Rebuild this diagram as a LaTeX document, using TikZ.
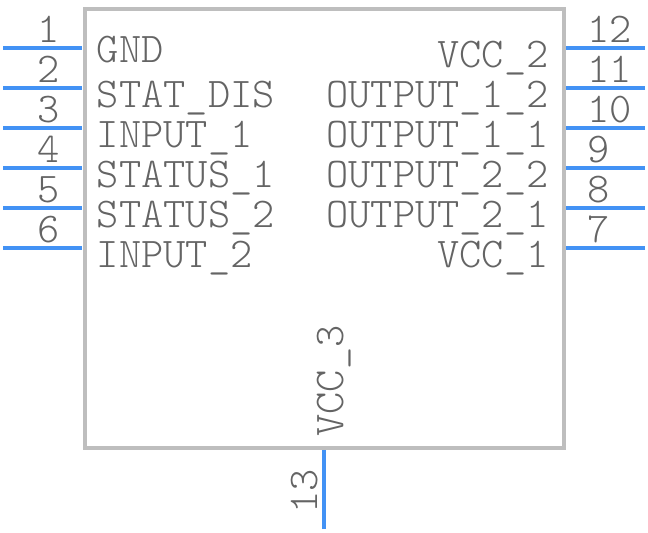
\documentclass[tikz,border=0pt]{standalone}
\usepackage{fontspec}
\setmonofont{Latin Modern Mono Light}
\definecolor{pincol}{RGB}{66,146,245}
\definecolor{boxcol}{RGB}{190,190,190}
\definecolor{txtcol}{RGB}{100,100,100}
\newcommand{\wpx}{648}
\newcommand{\hpx}{532}
\tikzset{
    px/.style={x=0.02cm,y=-0.02cm},
    pinline/.style={draw=pincol,line width=0.08cm},
    lab/.style={text=txtcol,font=\ttfamily\fontsize{24.1}{24.1}\selectfont,inner sep=0pt},
    num/.style={text=txtcol,font=\ttfamily\fontsize{24.1}{24.1}\selectfont,inner sep=0pt}
}
\begin{document}
\begin{tikzpicture}[px]
    \useasboundingbox (0,0) rectangle (\wpx,\hpx);
    \node[draw=boxcol,line width=0.08cm,minimum width=9.6cm,minimum height=8.78cm,inner sep=0pt,outer sep=0pt] (body) at (324.5,228.5) {};
    % left pins
    \foreach \n/\y/\d/\t in {1/48/14/GND,2/88/19/STAT\_DIS,3/128/19/INPUT\_1,4/168/19/STATUS\_1,5/208/19/STATUS\_2,6/248/19/INPUT\_2}
    {
        \coordinate (pl\n) at (3,\y);
        \coordinate (il\n) at (82,\y);
        \draw[pinline] (pl\n)--(il\n);
        \node[num,anchor=base east] (nl\n) at (60,\y-6) {\n};
        \node[lab,anchor=base west] (tl\n) at (96.5,\y+\d) {\t};
    }
    % right pins
    \foreach \n/\y/\t in {12/48/VCC\_2,11/88/OUTPUT\_1\_2,10/128/OUTPUT\_1\_1,9/168/OUTPUT\_2\_2,8/208/OUTPUT\_2\_1,7/248/VCC\_1}
    {
        \coordinate (pr\n) at (645,\y);
        \coordinate (ir\n) at (566,\y);
        \draw[pinline] (pr\n)--(ir\n);
        \node[num,anchor=base west] (nr\n) at (587,\y-6) {\n};
        \node[lab,anchor=base east] (tr\n) at (549,\y+19) {\t};
    }
    % bottom pin
    \coordinate (pb) at (324,529);
    \coordinate (ib) at (324,450);
    \draw[pinline] (pb)--(ib);
    \node[num,rotate=90,anchor=base west] (nb) at (317,514) {13};
    \node[lab,rotate=90,anchor=base west] (tb) at (343,437) {VCC\_3};
\end{tikzpicture}
\end{document}
